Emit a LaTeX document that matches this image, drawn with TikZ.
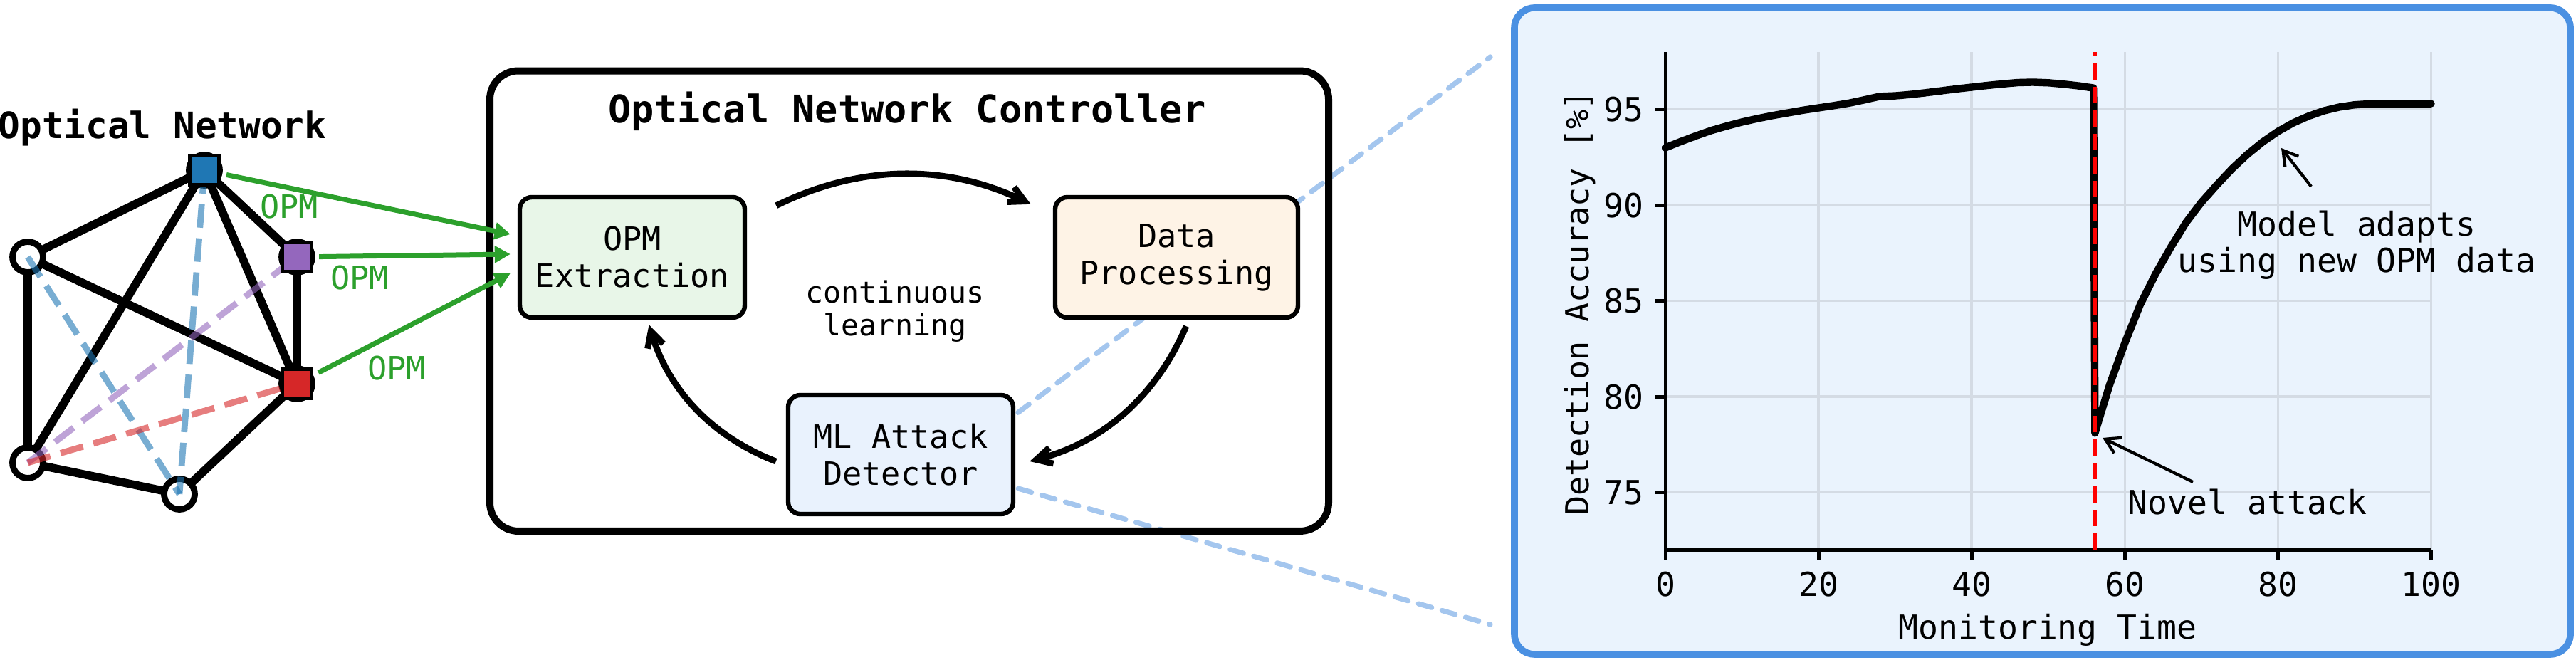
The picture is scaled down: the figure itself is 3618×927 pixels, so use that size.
\documentclass[tikz,border=0pt]{standalone}
\usepackage{fontspec}
\setmainfont{DejaVu Sans Mono}
\usetikzlibrary{arrows.meta,calc}
\definecolor{tabblue}{HTML}{1F77B4}
\definecolor{tabpurple}{HTML}{9467BD}
\definecolor{tabred}{HTML}{D62728}
\definecolor{tabgreen}{HTML}{2CA02C}
\definecolor{boxgreen}{HTML}{E8F6E8}
\definecolor{boxorange}{HTML}{FEF3E6}
\definecolor{boxblue}{HTML}{E9F2FD}
\definecolor{panelfill}{HTML}{EAF3FD}
\definecolor{panelborder}{HTML}{4A90E2}
\definecolor{zoomline}{HTML}{A4C6EE}
\definecolor{gridc}{HTML}{D4DBE4}
\pgfdeclarelayer{back}
\pgfsetlayers{back,main}
\tikzset{
  netedge/.style={line width=2.9pt},
  netcirc/.style={circle, draw, line width=2.2pt, fill=white, minimum size=10.75pt, inner sep=0pt},
  netsq/.style={rectangle, draw, line width=1.3pt, minimum size=10.25pt, inner sep=0pt},
  netdash/.style={line width=2.2pt, dash pattern=on 8.25pt off 3.75pt, draw opacity=0.6},
  opmarrow/.style={draw=tabgreen, line width=1.75pt, shorten <=2pt, -{Triangle[length=5.5pt,width=5.75pt,fill=tabgreen]}},
  opmlabel/.style={text=tabgreen, font=\fontsize{11.3}{13}\selectfont, inner sep=0pt},
  procbox/.style={rectangle, rounded corners=4.25pt, draw, line width=1.6pt, minimum width=79pt, minimum height=42.25pt, align=center, font=\fontsize{11.3}{13}\selectfont, inner sep=0pt},
  cyc/.style={line width=2.2pt, -{Straight Barb[length=5.5pt,width=5.75pt]}},
  zoomln/.style={draw=zoomline, line width=1.8pt, line cap=round, dash pattern=on 4.8pt off 3.8pt},
  gridln/.style={draw=gridc, line width=0.9pt},
  spine/.style={line width=1.25pt},
  tickln/.style={line width=1.2pt},
  curveln/.style={line width=2.6pt, line join=round, line cap=round},
  attackln/.style={draw=red, line width=1.55pt, dash pattern=on 5.75pt off 2.5pt},
  annarrow/.style={line width=1.05pt, -{Straight Barb[length=5pt,width=6pt]}},
  plotlbl/.style={font=\fontsize{11.6}{13}\selectfont, inner sep=0pt},
}
\begin{document}
\begin{tikzpicture}[x=0.25pt,y=-0.25pt]
\useasboundingbox (0,0) rectangle (3618,927);
\begin{pgfonlayer}{back}
\fill[white] (0,0) rectangle (3618,927);
\end{pgfonlayer}

% ---------- controller ----------
\node[draw, line width=2.5pt, rounded corners=10pt, minimum width=294.5pt, minimum height=161.6pt, inner sep=0pt] (ctrl) at (1277,422.75) {};
\node[font=\bfseries\fontsize{13.4}{16}\selectfont, anchor=base, inner sep=0pt] (ctitle) at (1274,173) {Optical Network Controller};

% ---------- panel ----------
\node[draw=panelborder, fill=panelfill, line width=2.4pt, rounded corners=7pt, minimum width=370.75pt, minimum height=227pt, inner sep=0pt] (panel) at (2868.5,465) {};

% ---------- process boxes ----------
\node[procbox, fill=boxgreen] (ext) at (888,361.5) {OPM\\Extraction};
\node[procbox, fill=boxorange, minimum width=85.25pt] (dp) at (1652.5,361.5) {Data\\Processing};
\node[procbox, fill=boxblue, minimum height=41.75pt] (ml) at (1265,638.5) {ML Attack\\Detector};
\node[font=\fontsize{10.4}{11.5}\selectfont, align=center, inner sep=0pt] (cl) at (1257,437) {continuous\\learning};

% zoom lines
\coordinate (zt) at (2093,80);
\coordinate (zb) at (2093,877);
\begin{pgfonlayer}{back}
\draw[zoomln] ($(ml.center)+(0,65)$) -- (zt);
\draw[zoomln] (ml.center) -- (zb);
\end{pgfonlayer}

% cycle arrows
\coordinate (c1s) at ($(ext.north east)+(41,15)$);
\coordinate (c1e) at ($(dp.north west)+(-31,13)$);
\coordinate (c2s) at ($(dp.south)+(13.5,9)$);
\coordinate (c2e) at ($(ml.east)+(20,9.5)$);
\coordinate (c3s) at ($(ml.west)+(-14,9.5)$);
\coordinate (c3e) at ($(ext.south)+(23.5,7)$);
\draw[cyc] (c1s) .. controls (1208,230.7) and (1329.3,230) .. (c1e);
\draw[cyc] (c2s) .. controls (1623.8,556.5) and (1549.5,620.9) .. (c2e);
\draw[cyc] (c3s) .. controls (1000,613.3) and (939.5,548.3) .. (c3e);

% ---------- network ----------
\node[font=\bfseries\fontsize{12.75}{15}\selectfont, anchor=base, inner sep=0pt] (ntitle) at (228,195) {Optical Network};
\node[netcirc] (lt) at (39,361) {};
\node[netcirc] (lb) at (39,650) {};
\node[netcirc] (bt) at (252,694) {};
\node[netcirc] (blc) at (287,239) {};
\node[netcirc] (puc) at (417,361) {};
\node[netcirc] (rdc) at (417,539) {};
\begin{pgfonlayer}{back}
\draw[netedge] (lt.center) -- (blc.center);
\draw[netedge] (lt.center) -- (rdc.center);
\draw[netedge] (lt.center) -- (lb.center);
\draw[netedge] (blc.center) -- (lb.center);
\draw[netedge] (blc.center) -- (rdc.center);
\draw[netedge] (blc.center) -- (puc.center);
\draw[netedge] (puc.center) -- (rdc.center);
\draw[netedge] (lb.center) -- (bt.center);
\draw[netedge] (bt.center) -- (rdc.center);
\end{pgfonlayer}
\draw[netdash, tabblue] (lt.center) -- (bt.center);
\draw[netdash, tabblue] (blc.center) -- (bt.center);
\draw[netdash, tabpurple] (lb.center) -- (puc.center);
\draw[netdash, tabred] (lb.center) -- (rdc.center);
\node[netsq, fill=tabblue] (bl) at (blc) {};
\node[netsq, fill=tabpurple] (pu) at (puc) {};
\node[netsq, fill=tabred] (rd) at (rdc) {};
\draw[opmarrow] (bl) -- ($(ext.west)+(-10,-32.5)$);
\draw[opmarrow] (pu) -- ($(ext.west)+(-10,-4.5)$);
\draw[opmarrow] (rd) -- ($(ext.west)+(-10,22.5)$);
\node[opmlabel] (o1) at (406,290) {OPM};
\node[opmlabel] (o2) at (505,390) {OPM};
\node[opmlabel] (o3) at (557,517) {OPM};

% ---------- plot ----------
\begin{scope}[shift={(2339,2709.2)}]
\begin{scope}[x=2.68875pt,y=6.725pt]
  \foreach \t in {20,40,60,80,100} \draw[gridln] (\t,72) -- (\t,98);
  \foreach \v in {75,80,85,90,95} \draw[gridln] (0,\v) -- (100,\v);
  \draw[spine] (0,98) -- (0,72) -- (100,72);
  \foreach \t in {0,20,40,60,80,100} {
    \draw[tickln] (\t,72) -- ++(0pt,-3.75pt);
    \node[plotlbl, anchor=base] (xt\t) at ($(\t,72)+(0pt,-16.4pt)$) {\t};
  }
  \foreach \v in {75,80,85,90,95} {
    \draw[tickln] (0,\v) -- ++(-3.75pt,0pt);
    \node[plotlbl, anchor=base east] (yt\v) at ($(0,\v)+(-7.5pt,-4.25pt)$) {\v};
  }
  \draw[curveln] plot coordinates {(0,93.0) (2,93.32) (4,93.62) (6,93.9) (8,94.13) (10,94.34) (12,94.52) (14,94.68) (16,94.82) (18,94.96) (20,95.08) (22,95.2) (24,95.33) (26,95.5) (28,95.68) (30,95.71) (32,95.78) (34,95.87) (36,95.97) (38,96.07) (40,96.16) (42,96.25) (44,96.33) (46,96.4) (48,96.42) (50,96.39) (52,96.32) (54,96.23) (55.9,96.12) (56.1,78.1) (57,79.3) (58,80.6) (59,81.7) (60,82.8) (62,84.8) (64,86.4) (66,87.8) (68,89.1) (70,90.15) (72,91.05) (74,91.9) (76,92.65) (78,93.3) (80,93.85) (82,94.3) (84,94.65) (86,94.93) (88,95.12) (90,95.24) (92,95.29) (94,95.3) (100,95.3)};
  \draw[attackln] (56.1,72) -- (56.1,98);
\end{scope}
\end{scope}

\node[font=\fontsize{11.25}{13}\selectfont, inner sep=0pt, rotate=90, anchor=base] (ylab) at (2231,425.6) {Detection Accuracy [\%]};
\node[plotlbl, anchor=base] (xlab) at (2876,898) {Monitoring Time};
\node[plotlbl, anchor=base west] (novel) at (2988,723) {Novel attack};
\node[font=\fontsize{11.6}{12.75}\selectfont, align=center, inner sep=0pt] (model) at (3310,344) {Model adapts\\using new OPM data};
\coordinate (natail) at (3080,677);
\coordinate (natip) at (2953,615);
\coordinate (matail) at (3246,262);
\coordinate (matip) at (3204,208);
\draw[annarrow] (natail) -- (natip);
\draw[annarrow] (matail) -- (matip);
\end{tikzpicture}
\end{document}
